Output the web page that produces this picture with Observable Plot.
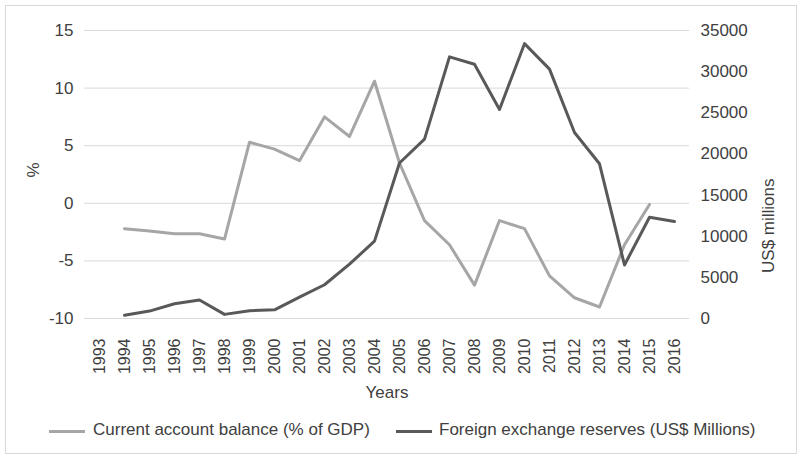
<!DOCTYPE html>
<html>
<head>
<meta charset="utf-8">
<script src="https://cdn.jsdelivr.net/npm/d3@7"></script>
<script src="https://cdn.jsdelivr.net/npm/@observablehq/plot@0.6"></script>
<style>
  html, body { margin: 0; padding: 0; background: #fff; }
  body { width: 804px; height: 457px; position: relative; overflow: hidden;
         font-family: "Liberation Sans", Arial, sans-serif; color: #404040; }
  #frame { position: absolute; left: 5px; top: 5px; width: 792px; height: 449px;
           border: 1px solid #d9d9d9; box-sizing: border-box; }
  #chart { position: absolute; left: 0; top: 0; }
  .leg { position: absolute; font-size: 17px; line-height: 20px; white-space: nowrap; }
  .sw { position: absolute; height: 3px; }
</style>
</head>
<body>
<div id="frame"></div>
<div id="chart"></div>
<div class="sw" style="left:49px;top:430px;width:36px;background:#a6a6a6"></div>
<div class="leg" style="left:93px;top:420px">Current account balance (% of GDP)</div>
<div class="sw" style="left:396px;top:430px;width:36px;background:#595959"></div>
<div class="leg" style="left:439px;top:420px">Foreign exchange reserves (US$ Millions)</div>
<script>
const years = ["1993","1994","1995","1996","1997","1998","1999","2000","2001","2002","2003","2004",
               "2005","2006","2007","2008","2009","2010","2011","2012","2013","2014","2015","2016"];

const caYears = ["1994","1995","1996","1997","1998","1999","2000","2001","2002","2003","2004",
                 "2005","2006","2007","2008","2009","2010","2011","2012","2013","2014","2015"];
const caValues = [-2.2, -2.4, -2.65, -2.65, -3.1, 5.3, 4.7, 3.7, 7.5, 5.8, 10.6,
                  3.5, -1.5, -3.6, -7.1, -1.5, -2.2, -6.3, -8.2, -9.0, -3.6, -0.1];

const fxYears = ["1994","1995","1996","1997","1998","1999","2000","2001","2002","2003","2004",
                 "2005","2006","2007","2008","2009","2010","2011","2012","2013","2014","2015","2016"];
const fxValues = [400, 900, 1800, 2250, 500, 950, 1050, 2600, 4100, 6600, 9400,
                  18900, 21800, 31800, 30900, 25400, 33400, 30300, 22600, 18800, 6500, 12300, 11800];

const leftTicks = [-10, -5, 0, 5, 10, 15];
const rightTicks = [0, 5000, 10000, 15000, 20000, 25000, 30000, 35000];

// map right axis (US$ millions) onto left axis (%)
const toLeft = r => -10 + r * 25 / 35000;
const toRight = v => Math.round((v + 10) * 35000 / 25);

const ca = caYears.map((y, i) => ({year: y, value: caValues[i]}));
const fx = fxYears.map((y, i) => ({year: y, value: fxValues[i]}));

const FS = 17;
const chart = Plot.plot({
  width: 804,
  height: 415,
  marginLeft: 84,
  marginRight: 115,
  marginTop: 30,
  marginBottom: 97,
  style: {fontFamily: "'Liberation Sans', Arial, sans-serif", fontSize: FS + "px", color: "#404040", background: "transparent"},
  x: {type: "point", domain: years, padding: 0.5},
  y: {domain: [-10, 15]},
  marks: [
    Plot.gridY(leftTicks, {stroke: "#d9d9d9", strokeOpacity: 1, strokeWidth: 1}),
    Plot.axisY(leftTicks, {anchor: "left", tickSize: 0, tickPadding: 11, label: null, fontSize: FS,
      tickFormat: d => String(d)}),
    Plot.axisY(rightTicks.map(toLeft), {anchor: "right", tickSize: 0, tickPadding: 11, label: null,
      tickFormat: v => String(toRight(v)), fontSize: FS}),
    Plot.axisX({tickRotate: -90, tickSize: 0, tickPadding: 20, label: null, fontSize: 16}),
    Plot.text(["%"], {text: d => d, frameAnchor: "left", dx: -51, dy: 3, rotate: -90, fontSize: FS, fill: "#404040"}),
    Plot.text(["US$ millions"], {text: d => d, frameAnchor: "right", dx: 79, dy: 4, rotate: -90, fontSize: FS, fill: "#404040"}),
    Plot.text(["Years"], {text: d => d, frameAnchor: "bottom", dy: 79, fontSize: FS, fill: "#404040"}),
    Plot.lineY(ca, {x: "year", y: "value", stroke: "#a6a6a6", strokeWidth: 3, strokeLinejoin: "round", strokeLinecap: "round"}),
    Plot.lineY(fx, {x: "year", y: d => toLeft(d.value), stroke: "#595959", strokeWidth: 3, strokeLinejoin: "round", strokeLinecap: "round"})
  ]
});
document.getElementById("chart").appendChild(chart);
</script>
</body>
</html>
